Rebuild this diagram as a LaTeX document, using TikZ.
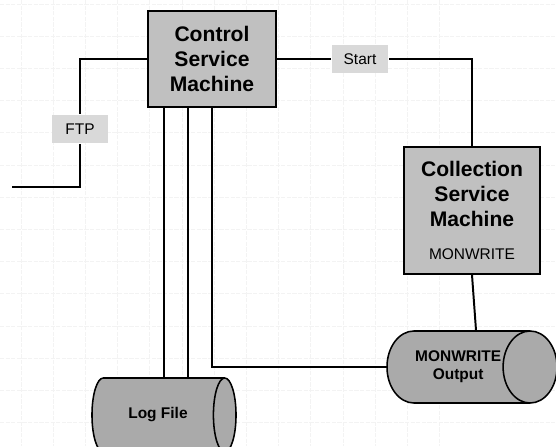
\documentclass[tikz,border=0pt]{standalone}
\usepackage{fontspec}
\setmainfont{Liberation Sans}
\usetikzlibrary{shapes.geometric}
\definecolor{boxgray}{RGB}{192,192,192}
\definecolor{cylgray}{RGB}{170,170,170}
\definecolor{taggray}{RGB}{217,217,217}
\definecolor{gridgray}{RGB}{243,243,243}

\begin{document}
\begin{tikzpicture}[
x=0.025cm, y=-0.025cm,
line width=1.4pt,
gridline/.style={draw=gridgray, line width=0.5pt, dash pattern=on 3pt off 1pt},
machine/.style={
    draw,
    fill=boxgray,
    font=\fontsize{15}{17.5}\selectfont\bfseries,
    align=center,
    inner sep=0pt
},
tag/.style={
    fill=taggray,
    font=\fontsize{11}{13}\selectfont,
    minimum width=1.4cm,
    minimum height=0.7cm
},
store/.style={
    cylinder,
    draw,
    fill=cylgray,
    line width=1.1pt,
    font=\fontsize{11}{13}\selectfont\bfseries,
    align=center,
    inner sep=0pt
}
]
\clip (0,0) rectangle (556,446);

% faint background grid
\foreach \k in {0,...,13} {
    \draw[gridline] (0,4+32.2*\k) -- (556,4+32.2*\k);
    \draw[gridline] (21+32.2*\k,0) -- (21+32.2*\k,446);
}

% machines
\node[machine, minimum width=3.2cm, minimum height=2.4cm] (ctrl) at (212,59)
    {Control\\Service\\Machine};
\node[machine, minimum width=3.4cm, minimum height=3.175cm] (coll) at (472,210.5)
    {Collection\\Service\\Machine\\[6pt]{\fontsize{11}{13}\selectfont\mdseries MONWRITE}};

% storage
\node[store, minimum height=4.25cm, minimum width=1.8cm, shape aspect=1.67,
    anchor=shape center] (mon) at (472,367) {MONWRITE\\Output};
\node[store, minimum height=3.6cm, minimum width=1.85cm, shape aspect=1.56,
    anchor=shape center] (log) at (164,415) {Log File};

% labels on the lines
\node[tag] (ftp) at (80,129) {FTP};
\node[tag] (start) at (360,59) {Start};
\coordinate (ftpend) at (12,187);
\path (mon.shape center |- mon.north) ++(4,0) coordinate (montop);

% connectors
\draw (ctrl.west) -| (ftp) |- (ftpend);
\draw (ctrl.east) -- (start) -| (coll.north);
\draw ([xshift=-1.2cm]ctrl.south) -- ([xshift=-1.2cm]ctrl.south |- log.north);
\draw ([xshift=-0.6cm]ctrl.south) -- ([xshift=-0.6cm]ctrl.south |- log.north);
\draw (ctrl.south) |- (mon.west);
\draw (coll.south) -- (montop);
\end{tikzpicture}
\end{document}
